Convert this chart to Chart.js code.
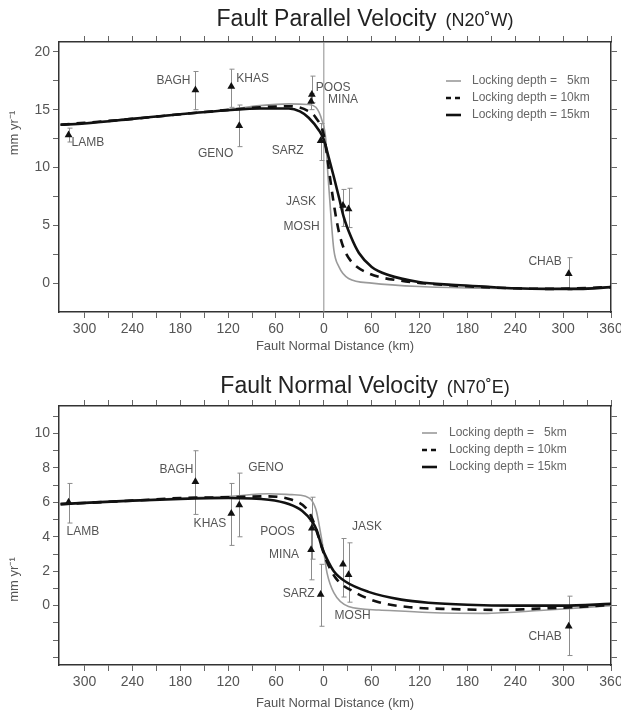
<!DOCTYPE html>
<html>
<head>
<meta charset="utf-8">
<title>Fault Velocity Profiles</title>
<script src="https://cdn.jsdelivr.net/npm/chart.js@4.4.1/dist/chart.umd.min.js"></script>
<style>
  body { margin: 0; background: #fff; }
  .panel { position: absolute; left: 0; width: 621px; }
</style>
</head>
<body>
<div class="panel" style="top:0"><canvas id="parallel" width="621" height="356"></canvas></div>
<div class="panel" style="top:356px"><canvas id="normal" width="621" height="357"></canvas></div>
<script>
// GPS stations along the profile (distance in km, negative = NE side)
const stations = ['LAMB', 'BAGH', 'KHAS', 'GENO', 'POOS', 'MINA', 'SARZ', 'JASK', 'MOSH', 'CHAB'];
const stationDist = [-320, -161, -116, -106, -15, -16, -4, 24, 31, 307];

// fault parallel component (mm/yr)
const parallelObs  = [12.8, 16.7, 17.0, 13.6, 16.3, 15.7, 12.3, 6.7, 6.4, 0.8];
const parallelLow  = [12.2, 15.0, 15.2, 11.8, 15.6, 15.0, 10.6, 4.9, 4.8, -0.6];
const parallelHigh = [13.4, 18.3, 18.5, 15.4, 17.9, 16.4, 13.8, 8.1, 8.2, 2.2];

// fault normal component (mm/yr)
const normalObs  = [6.0, 7.2, 5.35, 5.85, 4.5, 3.25, 0.64, 2.4, 1.8, -1.2];
const normalLow  = [4.8, 5.3, 3.5, 4.0, 2.7, 1.5, -1.2, 0.5, 0.2, -2.9];
const normalHigh = [7.1, 9.0, 7.1, 7.7, 6.3, 4.9, 2.4, 3.9, 3.65, 0.55];

// model curves, fault parallel
const par5X  = [-330, -240, -180, -120, -80, -44, -20, -10, -2.5, 2.5, 5, 9, 12.5, 19, 31, 60, 120, 200, 280, 360];
const par5Y  = [13.7, 14.2, 14.6, 15.0, 15.35, 15.5, 15.45, 15.2, 14.1, 12.4, 9.5, 5.7, 2.9, 1.4, 0.4, 0.0, -0.3, -0.45, -0.5, -0.35];
const par10X = [-330, -240, -180, -120, -80, -44, -20, -10, 0, 6, 10, 15, 19, 25, 34, 56, 97, 150, 200, 280, 360];
const par10Y = [13.7, 14.2, 14.6, 14.98, 15.2, 15.3, 14.9, 14.3, 12.8, 10.0, 8.0, 5.8, 4.4, 3.0, 1.9, 0.85, 0.2, -0.15, -0.35, -0.5, -0.35];
const par15X = [-330, -300, -240, -180, -120, -80, -44, -30, -19, -6, 0, 6, 12.5, 19, 25, 34, 44, 60, 81, 119, 160, 200, 240, 280, 320, 360];
const par15Y = [13.7, 13.8, 14.2, 14.6, 14.95, 15.1, 15.1, 14.85, 14.3, 13.2, 12.4, 10.9, 9.2, 7.4, 5.7, 4.0, 2.6, 1.4, 0.7, 0.1, -0.15, -0.3, -0.45, -0.5, -0.5, -0.35];

// model curves, fault normal
const norm5X  = [-330, -240, -180, -120, -69, -40, -23, -10, -4, 0, 4, 12.5, 31, 69, 131, 200, 280, 330, 360];
const norm5Y  = [5.9, 6.1, 6.25, 6.35, 6.5, 6.45, 6.35, 5.6, 4.2, 3.1, 1.9, 0.75, -0.05, -0.25, -0.4, -0.45, -0.25, -0.1, 0.0];
const norm10X = [-330, -240, -180, -120, -69, -40, -23, -15, -6, 2.5, 15, 40, 69, 110, 160, 220, 280, 330, 360];
const norm10Y = [5.9, 6.1, 6.25, 6.3, 6.35, 6.15, 5.7, 5.1, 3.9, 2.7, 1.6, 0.75, 0.2, -0.1, -0.2, -0.25, -0.15, -0.05, 0.05];
const norm15X = [-330, -240, -180, -120, -69, -44, -27, -15, -9, -2.5, 4, 12.5, 27, 56, 97, 131, 180, 240, 300, 360];
const norm15Y = [5.9, 6.1, 6.2, 6.25, 6.15, 5.9, 5.5, 4.9, 4.4, 3.4, 2.7, 2.0, 1.4, 0.8, 0.35, 0.17, 0.05, 0.0, 0.0, 0.1];

// ticks and ranges
const distTicks = [-300, -270, -240, -210, -180, -150, -120, -90, -60, -30, 0, 30, 60, 90, 120, 150, 180, 210, 240, 270, 300, 330, 360];
const parallelTicks = [0, 2.5, 5, 7.5, 10, 12.5, 15, 17.5, 20];
const normalTicks = [-3, -2, -1, 0, 1, 2, 3, 4, 5, 6, 7, 8, 9, 10, 11];
const distRange = [-332, 360];
const parallelRange = [-2.5, 20.85];
const normalRange = [-3.45, 11.6];

const depthLabels = ['Locking depth = \u20075km', 'Locking depth = 10km', 'Locking depth = 15km'];

Chart.defaults.font.family = '"Liberation Sans", Arial, sans-serif';
Chart.defaults.color = '#555';

const pts = (xs, ys) => xs.map((x, i) => ({ x: x, y: ys[i] }));

const decor = {
    id: 'decor',
    beforeDatasetsDraw(chart, args, opts) {
        const { ctx, scales: { x, y } } = chart;
        ctx.save();
        ctx.strokeStyle = '#8c8c8c';
        ctx.lineWidth = 1;
        opts.low.forEach((lo, i) => {
            const px = Math.round(x.getPixelForValue(stationDist[i])) + 0.5;
            const y1 = y.getPixelForValue(lo);
            const y2 = y.getPixelForValue(opts.high[i]);
            ctx.beginPath();
            ctx.moveTo(px, y1); ctx.lineTo(px, y2);
            ctx.moveTo(px - 2, y1); ctx.lineTo(px + 3, y1);
            ctx.moveTo(px - 2, y2); ctx.lineTo(px + 3, y2);
            ctx.stroke();
        });
        ctx.restore();
    },
    afterDatasetsDraw(chart, args, opts) {
        const { ctx, scales: { x, y } } = chart;
        ctx.save();
        ctx.font = '12px "Liberation Sans", Arial, sans-serif';
        ctx.fillStyle = '#555';
        ctx.textBaseline = 'middle';
        stations.forEach((name, i) => {
            const p = opts.labelPos[i];
            ctx.textAlign = p[2];
            ctx.fillText(name, x.getPixelForValue(stationDist[i]) + p[0], y.getPixelForValue(opts.obs[i]) + p[1]);
        });
        ctx.restore();
    },
    afterDraw(chart, args, opts) {
        const { ctx, chartArea: a } = chart;
        ctx.save();
        // title: main part plus smaller bearing
        ctx.fillStyle = '#222';
        ctx.textBaseline = 'alphabetic';
        ctx.textAlign = 'left';
        ctx.font = '23px "Liberation Sans", Arial, sans-serif';
        const w1 = ctx.measureText(opts.title).width;
        ctx.font = '18px "Liberation Sans", Arial, sans-serif';
        const w2 = ctx.measureText(opts.sub).width;
        const x0 = (a.left + a.right) / 2 + 30 - (w1 + 9 + w2) / 2;
        ctx.font = '23px "Liberation Sans", Arial, sans-serif';
        ctx.fillText(opts.title, x0, opts.titleY);
        ctx.font = '18px "Liberation Sans", Arial, sans-serif';
        ctx.fillText(opts.sub, x0 + w1 + 9, opts.titleY);

        // y axis title
        ctx.fillStyle = '#555';
        ctx.font = '13px "Liberation Sans", Arial, sans-serif';
        ctx.textAlign = 'center';
        ctx.textBaseline = 'middle';
        ctx.translate(14, (a.top + a.bottom) / 2 + opts.yTitleShift);
        ctx.rotate(-Math.PI / 2);
        ctx.fillText('mm yr\u207B\u00B9', 0, 0);
        ctx.setTransform(1, 0, 0, 1, 0, 0);

        // legend
        const lx = a.right - opts.legend.right;
        const ly = a.top + opts.legend.top;
        ctx.font = '12px "Liberation Sans", Arial, sans-serif';
        ctx.textAlign = 'left';
        for (let k = 0; k < 3; k++) {
            const ds = chart.data.datasets[k];
            const yy = ly + k * 17;
            ctx.strokeStyle = ds.borderColor;
            ctx.lineWidth = ds.borderWidth;
            ctx.setLineDash(ds.borderDash && ds.borderDash.length ? [5, 4] : []);
            ctx.beginPath();
            ctx.moveTo(lx, yy); ctx.lineTo(lx + 15, yy);
            ctx.stroke();
            ctx.setLineDash([]);
            ctx.fillStyle = '#666';
            ctx.fillText(ds.label, lx + opts.legend.gap, yy);
        }
        ctx.restore();
    }
};

function curveSets(c5, c10, c15) {
    const base = { showLine: true, pointRadius: 0, cubicInterpolationMode: 'monotone', fill: false };
    return [
        Object.assign({ label: depthLabels[0], data: c5, borderColor: '#9a9a9a', borderWidth: 1.6, order: 3 }, base),
        Object.assign({ label: depthLabels[1], data: c10, borderColor: '#111', borderWidth: 2.6, borderDash: [9, 7], order: 2 }, base),
        Object.assign({ label: depthLabels[2], data: c15, borderColor: '#111', borderWidth: 2.6, order: 1 }, base)
    ];
}

function scalesFor(yRange, yTicks, yLabel, xHeight) {
    const border = { display: true, color: '#333', width: 1.5 };
    const grid = { drawOnChartArea: false, tickLength: 6, color: '#666' };
    const setDist = (s) => { s.ticks = distTicks.map(v => ({ value: v })); };
    const setVal = (s) => { s.ticks = yTicks.map(v => ({ value: v })); };
    const noPad = (s) => { s.paddingLeft = 0; s.paddingRight = 0; s.paddingTop = 0; s.paddingBottom = 0; };
    return {
        x: {
            type: 'linear', position: 'bottom', min: distRange[0], max: distRange[1],
            afterBuildTicks: setDist,
            afterFit: (s) => { s.height = xHeight; noPad(s); },
            border: border, grid: grid,
            ticks: { font: { size: 14 }, color: '#555', padding: 3, maxRotation: 0, autoSkip: false,
                callback: (v) => (v % 60 === 0 ? String(Math.abs(v)) : '') },
            title: { display: true, text: 'Fault Normal Distance (km)', font: { size: 13 }, color: '#555', padding: { top: 0, bottom: 2 } }
        },
        x2: {
            type: 'linear', position: 'top', min: distRange[0], max: distRange[1],
            afterBuildTicks: setDist,
            afterFit: (s) => { s.height = 6; noPad(s); },
            border: border, grid: grid,
            ticks: { callback: () => '' }
        },
        y: {
            type: 'linear', position: 'left', min: yRange[0], max: yRange[1],
            afterBuildTicks: setVal,
            afterFit: (s) => { s.width = 59; noPad(s); },
            border: border, grid: grid,
            ticks: { font: { size: 14 }, color: '#555', padding: 3, autoSkip: false, callback: yLabel }
        },
        y2: {
            type: 'linear', position: 'right', min: yRange[0], max: yRange[1],
            afterBuildTicks: setVal,
            afterFit: (s) => { s.width = 6; noPad(s); },
            border: border, grid: grid,
            ticks: { callback: () => '' }
        }
    };
}

// fault parallel panel
new Chart(document.getElementById('parallel'), {
    type: 'scatter',
    data: {
        datasets: curveSets(pts(par5X, par5Y), pts(par10X, par10Y), pts(par15X, par15Y)).concat([
            { label: 'stations', data: pts(stationDist, parallelObs), pointStyle: 'triangle', pointRadius: 4.5,
              backgroundColor: '#111', borderColor: '#111', borderWidth: 0, order: 0 },
            { label: 'fault', data: [{ x: 0, y: parallelRange[0] }, { x: 0, y: parallelRange[1] }], showLine: true,
              pointRadius: 0, borderColor: '#8c8c8c', borderWidth: 1, tension: 0, order: 4 }
        ])
    },
    options: {
        responsive: false,
        animation: false,
        layout: { padding: { top: 36, right: 4, left: 0, bottom: 0 } },
        plugins: {
            legend: { display: false },
            tooltip: { enabled: false },
            decor: {
                title: 'Fault Parallel Velocity', sub: '(N20\u02DAW)', titleY: 26, yTitleShift: -44,
                legend: { right: 165, top: 39, gap: 26 },
                obs: parallelObs, low: parallelLow, high: parallelHigh,
                labelPos: [[3, 8, 'left'], [-5, -9, 'right'], [5, -8, 'left'], [-6, 28, 'right'], [4, -7, 'left'],
                           [17, -2, 'left'], [-17, 10, 'right'], [-27, -4, 'right'], [-29, 18, 'right'], [-7, -12, 'right']]
            }
        },
        scales: scalesFor(parallelRange, parallelTicks, (v) => (v % 5 === 0 ? String(v) : ''), 44)
    },
    plugins: [decor]
});

// fault normal panel
new Chart(document.getElementById('normal'), {
    type: 'scatter',
    data: {
        datasets: curveSets(pts(norm5X, norm5Y), pts(norm10X, norm10Y), pts(norm15X, norm15Y)).concat([
            { label: 'stations', data: pts(stationDist, normalObs), pointStyle: 'triangle', pointRadius: 4.5,
              backgroundColor: '#111', borderColor: '#111', borderWidth: 0, order: 0 }
        ])
    },
    options: {
        responsive: false,
        animation: false,
        layout: { padding: { top: 44, right: 4, left: 0, bottom: 0 } },
        plugins: {
            legend: { display: false },
            tooltip: { enabled: false },
            decor: {
                title: 'Fault Normal Velocity', sub: '(N70\u02DAE)', titleY: 37, yTitleShift: 44,
                legend: { right: 189, top: 27, gap: 27 },
                obs: normalObs, low: normalLow, high: normalHigh,
                labelPos: [[-2, 29, 'left'], [-2, -12, 'right'], [-5, 10, 'right'], [9, -37, 'left'], [-17, 4, 'right'],
                           [-12, 5, 'right'], [-6, -1, 'right'], [9, -38, 'left'], [-14, 41, 'left'], [-7, 10, 'right']]
            }
        },
        scales: scalesFor(normalRange, normalTicks, (v) => (v >= 0 && v % 2 === 0 ? String(v) : ''), 48)
    },
    plugins: [decor]
});
</script>
</body>
</html>
